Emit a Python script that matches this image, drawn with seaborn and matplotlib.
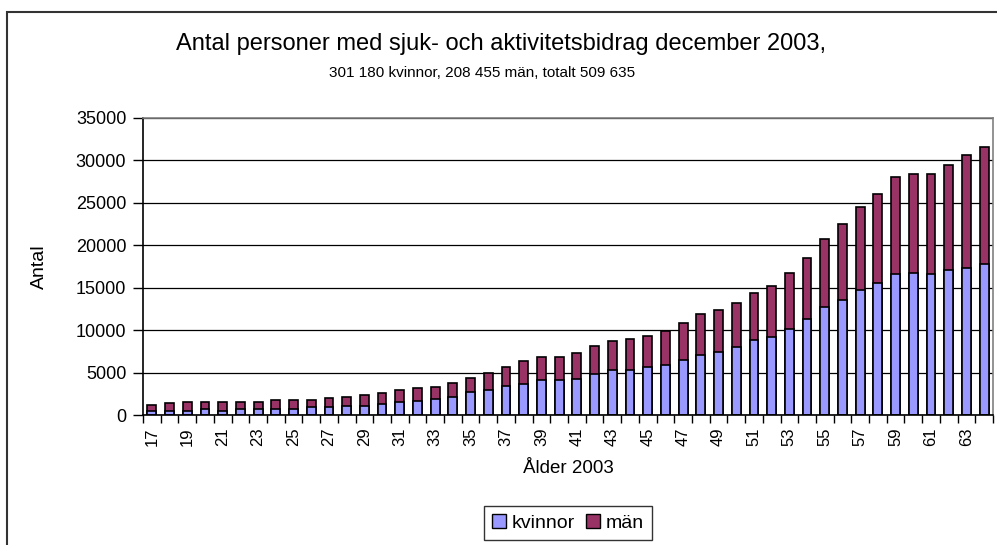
import matplotlib
matplotlib.use("Agg")
import matplotlib.pyplot as plt
import matplotlib.patches as mpatches
import seaborn as sns
import pandas as pd
import numpy as np

ages = list(range(17, 65))
kvinnor = [470, 470, 470, 710, 470, 710, 710, 710, 710, 900,
           900, 1100, 1100, 1300, 1490, 1690, 1900, 2130, 2720, 2950,
           3460, 3700, 4090, 4090, 4290, 4880, 5320, 5320, 5670, 5910,
           6450, 7050, 7450, 8020, 8810, 9200, 10180, 11370, 12780, 13570,
           14750, 15580, 16560, 16720, 16560, 17110, 17310, 17740]
totalt = [1180, 1380, 1570, 1570, 1570, 1570, 1570, 1770, 1770, 1770,
          1970, 2160, 2360, 2560, 2950, 3150, 3330, 3740, 4330, 4920,
          5710, 6340, 6890, 6890, 7280, 8110, 8700, 8900, 9290, 9850,
          10870, 11850, 12420, 13180, 14400, 15190, 16760, 18560, 20730, 22500,
          24460, 26040, 28050, 28440, 28440, 29420, 30650, 31630]
man = [t - k for t, k in zip(totalt, kvinnor)]

title = "Antal personer med sjuk- och aktivitetsbidrag december 2003,"
subtitle = "301 180 kvinnor, 208 455 män, totalt 509 635"
c_kv = "#9999FF"
c_man = "#993366"

df = pd.DataFrame({"Ålder": [str(a) for a in ages], "kvinnor": kvinnor,
                   "man": man, "totalt": totalt})

sns.set_theme(style="white")
plt.rcParams["font.family"] = ["Liberation Sans", "DejaVu Sans"]
plt.rcParams["text.color"] = "black"
plt.rcParams["axes.labelcolor"] = "black"
plt.rcParams["xtick.color"] = "black"
plt.rcParams["ytick.color"] = "black"

fig = plt.figure(figsize=(9.97, 5.45), dpi=100)
ax = fig.add_axes([143/997, 1-415/545, (993-143)/997, (415-118)/545])

order = df["Ålder"].tolist()
sns.barplot(data=df, x="Ålder", y="totalt", order=order, color=c_man,
            saturation=1, width=0.5, edgecolor="black", linewidth=1.2, ax=ax)
sns.barplot(data=df, x="Ålder", y="kvinnor", order=order, color=c_kv,
            saturation=1, width=0.5, edgecolor="black", linewidth=1.2, ax=ax)

ax.set_xlim(-0.5, len(ages) - 0.5)
ax.set_ylim(0, 35000)
ax.set_yticks(np.arange(0, 35001, 5000))
ax.set_yticklabels([str(v) for v in range(0, 35001, 5000)], fontsize=13)
ax.yaxis.grid(True, color="black", linewidth=0.9)
ax.set_axisbelow(True)

ax.set_xticks(range(len(ages)))
ax.set_xticklabels([a if i % 2 == 0 else "" for i, a in enumerate(order)],
                   rotation=90, fontsize=12)
ax.tick_params(axis="x", which="major", length=0, pad=9)
ax.set_xticks(np.arange(-0.5, len(ages), 1), minor=True)
ax.tick_params(axis="x", which="minor", length=6, width=1, color="black",
               direction="out", bottom=True)
ax.tick_params(axis="y", length=7, width=1, color="black", direction="out",
               left=True, pad=5)

for s in ["top", "right"]:
    ax.spines[s].set_color("#808080")
    ax.spines[s].set_linewidth(1.2)
for s in ["left", "bottom"]:
    ax.spines[s].set_color("black")
    ax.spines[s].set_linewidth(1.2)

ax.set_xlabel("Ålder 2003", fontsize=13.5, labelpad=10)
ax.set_ylabel("Antal", fontsize=14, labelpad=20)

fig.text(501/997, 1-44/545, title, ha="center", va="center", fontsize=17)
fig.text(482/997, 1-73/545, subtitle, ha="center", va="center", fontsize=11)

# outer chart border
fig.patches.append(mpatches.Rectangle((7/997, -0.02), 1.0, 1-12/545+0.02,
                                      transform=fig.transFigure, fill=False,
                                      edgecolor="#333333", linewidth=1.5))

handles = [mpatches.Patch(facecolor=c_kv, edgecolor="black", label="kvinnor"),
           mpatches.Patch(facecolor=c_man, edgecolor="black", label="män")]
leg = fig.legend(handles=handles, loc="center", bbox_to_anchor=(568/997, 1-523/545),
                 ncol=2, fontsize=14, frameon=True, fancybox=False,
                 handlelength=0.7, handleheight=0.7, handletextpad=0.3,
                 columnspacing=0.6, borderpad=0.4)
leg.get_frame().set_edgecolor("black")
leg.get_frame().set_linewidth(1)

fig.savefig("out.png", dpi=100)
